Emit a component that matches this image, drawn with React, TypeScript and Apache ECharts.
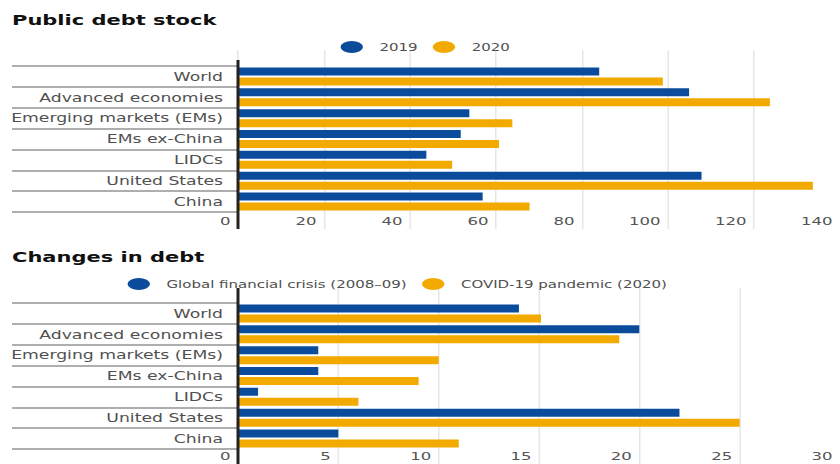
import React, { useEffect, useRef } from "react";
import * as echarts from "echarts";

// ---- data ----
const categories = [
  "World",
  "Advanced economies",
  "Emerging markets (EMs)",
  "EMs ex-China",
  "LIDCs",
  "United States",
  "China",
];
const debtStock2019 = [84.0, 104.9, 53.8, 51.8, 43.8, 107.8, 56.9];
const debtStock2020 = [98.8, 123.7, 63.8, 60.7, 49.8, 133.7, 67.8];
const changeGFC = [14.0, 20.0, 4.0, 4.0, 1.0, 22.0, 5.0];
const changeCOVID = [15.1, 19.0, 10.0, 9.0, 6.0, 25.0, 11.0];
const stockAxis = { min: 0, max: 140, interval: 20 };
const changeAxis = { min: 0, max: 30, interval: 5 };
const seriesNamesTop = ["2019", "2020"];
const seriesNamesBottom = ["Global financial crisis (2008–09)", "COVID-19 pandemic (2020)"];

// ---- layout (drawn at 1/S width, stretched horizontally by S) ----
const S = 1.5;
const FULL_W = 840;
const FULL_H = 464;
const X0 = 238 / S;
const GW = 607 / S;
const FONT = "DejaVu Sans";
const BLUE = "#0A4C9B";
const YELLOW = "#F2A900";
const ELLIPSE = "path://M0,6 A7.5,6 0 1,0 15,6 A7.5,6 0 1,0 0,6 Z";

function decoXAxis(gridIndex: number, ax: { min: number; max: number; interval: number }) {
  return {
    gridIndex,
    type: "value",
    min: ax.min,
    max: ax.max,
    interval: ax.interval,
    axisLine: { show: false },
    axisTick: { show: false },
    splitLine: { show: true, lineStyle: { color: "#e6e6e6", width: 1 } },
    axisLabel: {
      inside: true,
      margin: 2,
      align: "right",
      padding: [0, 5, 0, 0],
      fontSize: 11,
      color: "#555",
      fontFamily: FONT,
    },
  };
}

function barXAxis(gridIndex: number, ax: { min: number; max: number; interval: number }) {
  return { gridIndex, type: "value", min: ax.min, max: ax.max, interval: ax.interval, show: false };
}

function catYAxis(gridIndex: number) {
  return {
    gridIndex,
    type: "category",
    data: categories,
    inverse: true,
    axisLine: { show: false },
    axisTick: { show: true, length: (238 - 12) / S, lineStyle: { color: "#939393", width: 1.5 } },
    axisLabel: { margin: 10, fontSize: 11.5, color: "#505050", fontFamily: FONT },
    splitLine: { show: false },
  };
}

function legend(left: number, top: number, data: string[]) {
  return {
    left,
    top,
    itemWidth: 15,
    itemHeight: 12,
    itemGap: 10,
    icon: ELLIPSE,
    data,
    selectedMode: false,
    textStyle: { fontSize: 10, color: "#505050", fontFamily: FONT, padding: [0, 0, 0, 6] },
  };
}

function bar(name: string, data: number[], color: string, axisIndex: number) {
  return {
    type: "bar",
    name,
    data,
    xAxisIndex: axisIndex,
    yAxisIndex: axisIndex,
    barWidth: 8,
    barGap: "25%",
    itemStyle: { color },
  };
}

export default function App() {
  const ref = useRef<HTMLDivElement>(null);
  useEffect(() => {
    if (!ref.current) return;
    const chart = echarts.init(ref.current, null, { renderer: "svg" });
    chart.setOption({
      animation: false,
      backgroundColor: "#ffffff",
      title: [
        {
          text: "Public debt stock",
          left: 8,
          top: 13,
          padding: 0,
          textStyle: { fontSize: 14, fontWeight: "bold", color: "#111", fontFamily: FONT },
        },
        {
          text: "Changes in debt",
          left: 8,
          top: 250,
          padding: 0,
          textStyle: { fontSize: 14, fontWeight: "bold", color: "#111", fontFamily: FONT },
        },
      ],
      legend: [legend(222, 36, seriesNamesTop), legend(80, 273, seriesNamesBottom)],
      grid: [
        { left: X0, top: 50, width: GW, height: 179 },
        { left: X0, top: 66, width: GW, height: 146 },
        { left: X0, top: 288, width: GW, height: 177 },
        { left: X0, top: 303, width: GW, height: 146 },
      ],
      xAxis: [
        decoXAxis(0, stockAxis),
        barXAxis(1, stockAxis),
        decoXAxis(2, changeAxis),
        barXAxis(3, changeAxis),
      ],
      yAxis: [
        { gridIndex: 0, type: "value", show: false },
        catYAxis(1),
        { gridIndex: 2, type: "value", show: false },
        catYAxis(3),
      ],
      series: [
        bar(seriesNamesTop[0], debtStock2019, BLUE, 1),
        bar(seriesNamesTop[1], debtStock2020, YELLOW, 1),
        bar(seriesNamesBottom[0], changeGFC, BLUE, 3),
        bar(seriesNamesBottom[1], changeCOVID, YELLOW, 3),
      ],
      graphic: [
        {
          type: "line",
          z: 100,
          shape: { x1: X0, y1: 60, x2: X0, y2: 229 },
          style: { stroke: "#222", lineWidth: 2 },
        },
        {
          type: "line",
          z: 100,
          shape: { x1: X0, y1: 288, x2: X0, y2: 464 },
          style: { stroke: "#222", lineWidth: 2 },
        },
      ],
    });
    return () => chart.dispose();
  }, []);
  return (
    <div
      ref={ref}
      style={{
        position: "absolute",
        left: 0,
        top: 0,
        width: FULL_W / S,
        height: FULL_H,
        transform: `scaleX(${S})`,
        transformOrigin: "0 0",
        background: "#fff",
      }}
    />
  );
}
